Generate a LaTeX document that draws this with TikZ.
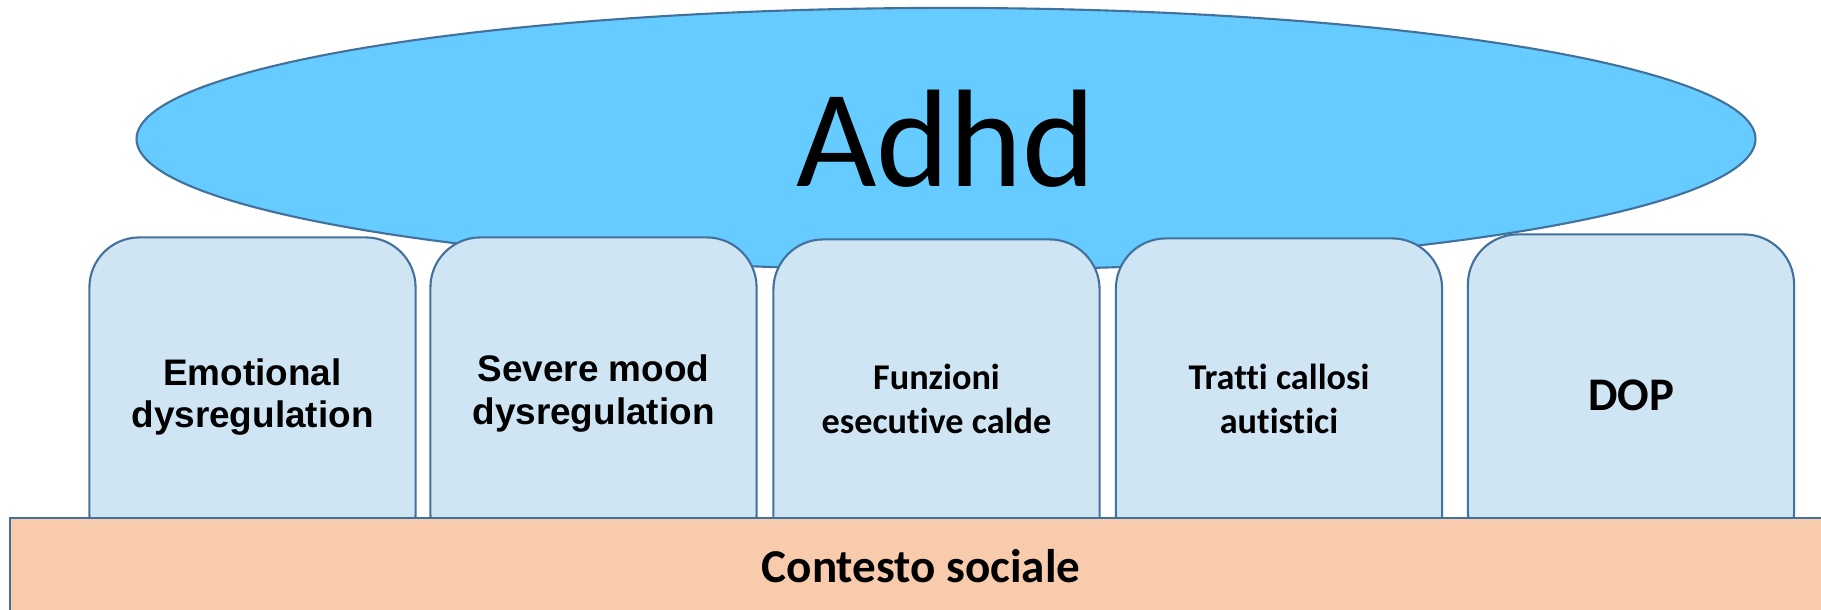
\documentclass[tikz,border=0pt]{standalone}
\usepackage{fontspec}
\setmainfont{Carlito}[Ligatures={NoCommon}]
\newfontfamily\arialfont{Liberation Sans}
\usetikzlibrary{shapes.geometric}

\definecolor{edgeblue}{HTML}{41719C}
\definecolor{skyfill}{HTML}{66CCFF}
\definecolor{cardfill}{HTML}{CFE5F3}
\definecolor{basefill}{HTML}{F8CBAD}

\tikzset{
  card/.style={draw=edgeblue, fill=cardfill, line width=0.6pt, rounded corners=0.5cm,
    minimum width=3.26cm, minimum height=3.27cm, align=center, inner sep=0pt},
  cardtxt/.style={font=\arialfont\bfseries\fontsize{10.5}{12.2}\selectfont},
  cardcal/.style={font=\bfseries\fontsize{10.3}{12.6}\selectfont},
}

\begin{document}
\begin{tikzpicture}[x=0.01cm, y=-0.01cm]
  \useasboundingbox (0,0) rectangle (1821,609);
  \clip (0,0) rectangle (1821,609);

  % cloud on top
  \node[ellipse, draw=edgeblue, fill=skyfill, line width=0.6pt, minimum width=16.18cm,
        minimum height=2.62cm, inner sep=0pt, font=\fontsize{39.5}{44}\selectfont]
        (adhd) at (946,139) {Adhd};

  % the five pillars (text depth lifts the label a little)
  \node[card, cardtxt, text depth=4.5pt] (emo) at (252.5,401) {Emotional\\dysregulation};
  \node[card, cardtxt, text depth=6.7pt] (mood) at (593.5,401) {Severe mood\\dysregulation};
  \node[card, cardcal, text depth=2.3pt] (exec) at (936.5,403) {Funzioni\\esecutive calde};
  \node[card, cardcal, text depth=1.7pt] (callous) at (1279,402) {Tratti callosi\\autistici};
  \node[card, font=\bfseries\fontsize{13.3}{16}\selectfont, text depth=1.7pt] (dop) at (1631,398) {DOP};

  % ground
  \node[draw=edgeblue, fill=basefill, line width=0.6pt, anchor=north west, inner sep=0pt,
        minimum width=18.21cm, minimum height=0.97cm,
        font=\bfseries\fontsize{13.4}{16}\selectfont] (social) at (9,517) {Contesto sociale};
\end{tikzpicture}
\end{document}
